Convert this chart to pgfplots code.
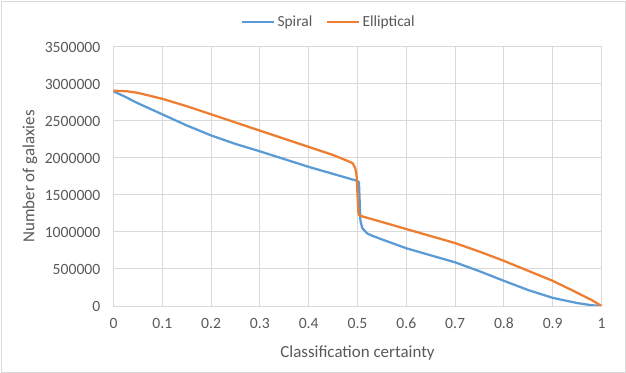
\documentclass[border=0pt]{standalone}
\usepackage{fontspec}
\setmainfont{Carlito}
\usepackage{pgfplots}
\pgfplotsset{compat=1.18}
\definecolor{sp}{HTML}{5B9BD5}
\definecolor{el}{HTML}{ED7D31}
\definecolor{gridc}{HTML}{D9D9D9}
\definecolor{txt}{HTML}{595959}
\begin{document}
\begin{tikzpicture}
\useasboundingbox (-113.5bp,-67bp) rectangle (512.5bp,306bp);
\draw[gridc, line width=0.75bp] (-112.5bp,-66bp) rectangle (511.5bp,305bp);
\begin{axis}[
  at={(0,0)}, anchor=south west, scale only axis,
  width=488bp, height=259bp,
  xmin=0, xmax=1, ymin=0, ymax=3500000,
  xtick={0,0.1,0.2,0.3,0.4,0.5,0.6,0.7,0.8,0.9,1},
  ytick={0,500000,1000000,1500000,2000000,2500000,3000000,3500000},
  grid=major,
  major grid style={gridc, line width=1bp},
  axis line style={gridc, line width=1bp},
  major tick length=0pt,
  scaled y ticks=false,
  /pgf/number format/assume math mode=true,
  yticklabel style={/pgf/number format/fixed, /pgf/number format/1000 sep={}, font=\fontsize{15.7}{17}\selectfont, text=txt, inner sep=0pt, anchor=east, xshift=-13bp},
  xticklabel style={/pgf/number format/fixed, /pgf/number format/precision=1, font=\fontsize{15.7}{17}\selectfont, text=txt, inner sep=0pt, anchor=north, yshift=-12bp},
  xlabel={Classification certainty},
  ylabel={Number of galaxies},
  every axis x label/.style={at={(axis description cs:0.5,-0.1815)}, anchor=center, font=\fontsize{17}{19}\selectfont, text=txt},
  every axis y label/.style={at={(axis description cs:-0.171,0.5)}, anchor=center, rotate=90, font=\fontsize{17}{19}\selectfont, text=txt},
  legend columns=2,
  legend style={at={(axis description cs:0.4416,1.0965)}, anchor=center, draw=none, fill=none, font=\fontsize{15.5}{17}\selectfont, text=txt, /tikz/every even column/.append style={column sep=12bp}},
  legend image code/.code={\draw[#1, line width=2.25bp] (0bp,0bp) -- (32bp,0bp);},
]
\addplot[sp, line width=2.25bp, line join=round] coordinates {
(0,2900000) (0.02,2840000) (0.05,2740000) (0.1,2590000) (0.15,2440000) (0.2,2305000)
(0.25,2190000) (0.3,2090000) (0.35,1985000) (0.4,1880000) (0.45,1785000) (0.5,1690000)
(0.503,1670000) (0.506,1150000) (0.51,1050000) (0.52,980000) (0.53,950000) (0.55,900000)
(0.6,780000) (0.65,685000) (0.7,590000) (0.75,470000) (0.8,340000) (0.85,215000)
(0.9,110000) (0.95,40000) (0.98,10000) (1,0)
};
\addlegendentry{Spiral}
\addplot[el, line width=2.25bp, line join=round] coordinates {
(0,2910000) (0.03,2900000) (0.05,2880000) (0.1,2800000) (0.15,2700000) (0.2,2590000)
(0.25,2480000) (0.3,2370000) (0.35,2260000) (0.4,2150000) (0.45,2040000) (0.48,1960000)
(0.49,1930000) (0.495,1870000) (0.498,1780000) (0.502,1240000) (0.505,1220000)
(0.55,1135000) (0.6,1040000) (0.65,945000) (0.7,850000) (0.75,735000) (0.8,610000)
(0.85,475000) (0.9,340000) (0.95,180000) (0.98,80000) (1,0)
};
\addlegendentry{Elliptical}
\end{axis}
\end{tikzpicture}
\end{document}
